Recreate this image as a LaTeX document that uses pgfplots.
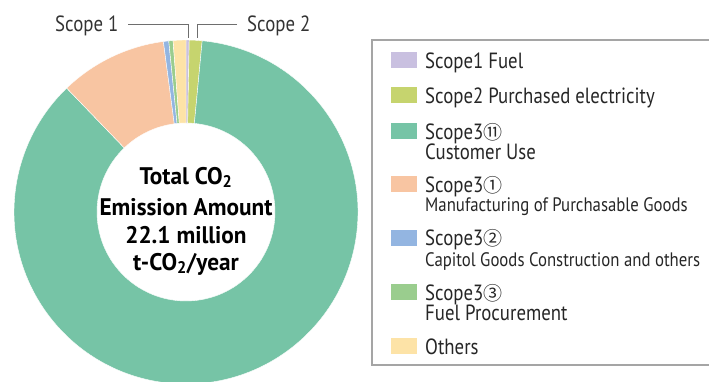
\documentclass[border=0pt]{standalone}
\usepackage{pgfplots}
\usepackage{pgfplotstable}
\pgfplotsset{compat=1.18}
\usepackage{fontspec}
\setmainfont{PT Sans}[FakeStretch=0.855]
\newfontfamily\smfam{PT Sans}[FakeStretch=0.86]
\newfontfamily\ctr{PT Sans}[FakeStretch=0.97]
\newfontfamily\cjk{Noto Sans CJK JP}

\definecolor{c0}{RGB}{201,192,224}
\definecolor{c1}{RGB}{198,212,110}
\definecolor{c2}{RGB}{118,196,166}
\definecolor{c3}{RGB}{248,197,162}
\definecolor{c4}{RGB}{147,181,225}
\definecolor{c5}{RGB}{154,205,142}
\definecolor{c6}{RGB}{253,227,167}
\definecolor{lead}{RGB}{110,110,110}
\definecolor{frame}{RGB}{165,165,165}

% share of total emissions (%), clockwise from 12 o'clock
\pgfplotstableread{
name pct
Scope1Fuel 0.3
Scope2Electricity 1.2
Scope3CustomerUse 86.3
Scope3Manufacturing 10.1
Scope3CapitalGoods 0.5
Scope3FuelProcurement 0.4
Others 1.2
}\slices
\pgfplotstablecreatecol[create col/expr accum={\pgfmathaccuma + \thisrow{pct}}{0}]{cum}\slices

\newcommand\lgf{\fontsize{22bp}{22bp}\selectfont}
\newcommand\smf{\smfam\fontsize{19.5bp}{20bp}\selectfont}
\newcommand\cn[1]{{\cjk\fontsize{19bp}{20bp}\selectfont #1}}

\begin{document}
\begin{tikzpicture}
\begin{axis}[x=1bp, y=1bp, xmin=0, xmax=709, ymin=0, ymax=381,
  hide axis, clip=true, anchor=south west, at={(0,0)}]
\pgfplotsinvokeforeach{0,...,6}{
  \pgfplotstablegetelem{#1}{pct}\of\slices \let\vP\pgfplotsretval
  \pgfplotstablegetelem{#1}{cum}\of\slices \let\vC\pgfplotsretval
  \pgfmathsetmacro\aS{90-3.6*(\vC-\vP)}
  \pgfmathsetmacro\aE{90-3.6*\vC}
  \pgfmathsetmacro\xo{186+172*cos(\aS)}
  \pgfmathsetmacro\yo{169+172*sin(\aS)}
  \pgfmathsetmacro\xi{186+89*cos(\aE)}
  \pgfmathsetmacro\yi{169+89*sin(\aE)}
  \edef\temp{\noexpand\fill[fill=c#1, draw=white, line width=0.4bp]
    (axis cs:\xo,\yo) arc[start angle=\aS, end angle=\aE, radius=172]
    -- (axis cs:\xi,\yi) arc[start angle=\aE, end angle=\aS, radius=89] -- cycle;}
  \temp
}
% leader lines
\draw[lead, line width=0.8bp] (axis cs:128,357) -- (axis cs:188,357) -- (axis cs:188,343);
\draw[lead, line width=0.8bp] (axis cs:237,357) -- (axis cs:197,357) -- (axis cs:197,343);
\node[anchor=base west, inner sep=0pt, text=black!80] at (axis cs:55,350) {\lgf Scope 1};
\node[anchor=base west, inner sep=0pt, text=black!80] at (axis cs:247,350) {\lgf Scope 2};
% centre text
\node[anchor=base, inner sep=0pt] at (axis cs:186,197) {\ctr\bfseries\fontsize{24bp}{24bp}\selectfont Total CO\textsubscript{2}};
\node[anchor=base, inner sep=0pt] at (axis cs:186,166) {\ctr\bfseries\fontsize{24bp}{24bp}\selectfont Emission Amount};
\node[anchor=base, inner sep=0pt] at (axis cs:186,138) {\ctr\bfseries\fontsize{24bp}{24bp}\selectfont 22.1 million};
\node[anchor=base, inner sep=0pt] at (axis cs:186,111) {\ctr\bfseries\fontsize{24bp}{24bp}\selectfont t-CO\textsubscript{2}/year};
% legend
\draw[frame, line width=1.2bp] (axis cs:372,16) rectangle (axis cs:715,341);
\fill[c0] (axis cs:391,313) rectangle (axis cs:417,329);
\fill[c1] (axis cs:391,278) rectangle (axis cs:417,294);
\fill[c2] (axis cs:391,242) rectangle (axis cs:417,258);
\fill[c3] (axis cs:391,189) rectangle (axis cs:417,205);
\fill[c4] (axis cs:391,135) rectangle (axis cs:417,151);
\fill[c5] (axis cs:391,81) rectangle (axis cs:417,97);
\fill[c6] (axis cs:391,27) rectangle (axis cs:417,43);
\begin{scope}[every node/.style={anchor=base west, inner sep=0pt, text=black!85}]
\node at (axis cs:425,313) {\lgf Scope1 Fuel};
\node at (axis cs:425,278) {\lgf Scope2 Purchased electricity};
\node at (axis cs:425,242) {\lgf Scope3\cn{⑪}};
\node at (axis cs:425,222) {\lgf Customer Use};
\node at (axis cs:425,189) {\lgf Scope3\cn{①}};
\node at (axis cs:425,170) {\smf Manufacturing of Purchasable Goods};
\node at (axis cs:425,136) {\lgf Scope3\cn{②}};
\node at (axis cs:425,115) {\smf Capitol Goods Construction and others};
\node at (axis cs:425,81) {\lgf Scope3\cn{③}};
\node at (axis cs:425,61) {\lgf Fuel Procurement};
\node at (axis cs:425,27) {\lgf Others};
\end{scope}
\end{axis}
\pgfresetboundingbox
\path[use as bounding box] (current axis.south west) rectangle (current axis.north east);
\end{tikzpicture}
\end{document}
